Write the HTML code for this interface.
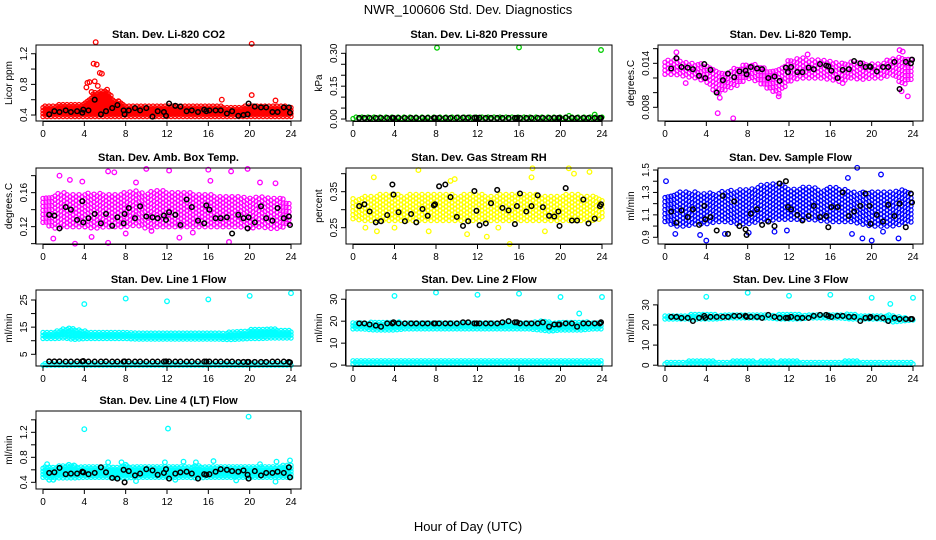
<!DOCTYPE html>
<html><head><meta charset="utf-8"><style>
html,body{margin:0;padding:0;background:#fff;}
svg{display:block;font-family:"Liberation Sans",Arial,sans-serif;}
</style></head><body>
<svg id="chart" width="936" height="540" viewBox="0 0 936 540" xmlns="http://www.w3.org/2000/svg">
<text x="468" y="14" text-anchor="middle" font-size="13">NWR_100606  Std. Dev. Diagnostics</text>
<text x="468" y="531" text-anchor="middle" font-size="13">Hour of Day (UTC)</text>
</svg>
<script>
const blackT=[0.6,1.1,1.6,2.2,2.7,3.3,3.8,3.9,4.4,5.0,5.6,6.1,6.7,7.2,7.8,7.9,8.3,8.9,9.4,10.0,10.6,11.1,11.7,11.9,12.2,12.8,13.3,13.9,14.4,15.0,15.6,15.8,16.1,16.7,17.2,17.8,18.3,18.9,19.4,19.8,19.9,20.5,21.1,21.6,22.2,22.7,23.3,23.8,23.9];
const hours=[0,1,2,3,4,5,6,7,8,9,10,11,12,13,14,15,16,17,18,19,20,21,22,23,24];
const xTicks=[0,4,8,12,16,20,24];

const co2Lo=[0.38,0.38,0.38,0.38,0.38,0.38,0.38,0.38,0.38,0.38,0.38,0.38,0.38,0.38,0.38,0.38,0.38,0.38,0.38,0.38,0.38,0.38,0.38,0.38,0.38];
const co2Hi=[0.52,0.52,0.54,0.54,0.55,0.7,0.72,0.6,0.53,0.53,0.53,0.52,0.53,0.52,0.52,0.52,0.52,0.52,0.5,0.5,0.52,0.52,0.52,0.52,0.5];
const co2OutX=[5.1,20.2,4.9,5.2,5.5,5.7,4.3,4.5,6.2,20.2,4.2,5.0,7.3,17.3,22.5,4.7,5.3];
const co2OutY=[1.35,1.33,1.07,1.06,0.95,0.94,0.82,0.83,0.73,0.66,0.76,0.84,0.58,0.6,0.59,0.7,0.78];
const co2B=[0.41,0.45,0.44,0.46,0.44,0.45,0.43,0.47,0.46,0.6,0.41,0.45,0.49,0.53,0.46,0.41,0.46,0.49,0.46,0.49,0.38,0.45,0.44,0.39,0.55,0.52,0.51,0.45,0.46,0.44,0.47,0.45,0.46,0.46,0.46,0.42,0.45,0.39,0.4,0.41,0.55,0.51,0.5,0.5,0.44,0.44,0.5,0.5,0.43];

const presLo=[0.002,0.002,0.002,0.002,0.002,0.002,0.002,0.002,0.002,0.002,0.002,0.002,0.002,0.002,0.002,0.002,0.002,0.002,0.002,0.002,0.002,0.002,0.002,0.002,0.002];
const presHi=[0.012,0.012,0.012,0.012,0.012,0.012,0.012,0.012,0.012,0.012,0.012,0.012,0.012,0.012,0.012,0.012,0.012,0.012,0.012,0.012,0.012,0.014,0.012,0.012,0.01];
const presOutX=[8.1,16.0,23.9,23.3];
const presOutY=[0.325,0.327,0.315,0.02];
const presB=[0.005,0.005,0.005,0.005,0.005,0.005,0.005,0.005,0.005,0.005,0.005,0.005,0.005,0.005,0.005,0.005,0.005,0.005,0.005,0.006,0.006,0.006,0.006,0.005,0.006,0.005,0.005,0.005,0.005,0.005,0.005,0.005,0.005,0.005,0.005,0.005,0.005,0.005,0.005,0.005,0.005,0.006,0.005,0.005,0.005,0.005,0.005,0.005,0.005];

const tempLo=[0.0125,0.0125,0.0122,0.012,0.0115,0.0098,0.0105,0.011,0.012,0.0115,0.0105,0.0098,0.0115,0.012,0.012,0.012,0.0118,0.0115,0.012,0.0118,0.012,0.012,0.0125,0.011,0.012];
const tempHi=[0.0142,0.0147,0.0142,0.014,0.0138,0.013,0.0128,0.0135,0.014,0.0138,0.013,0.0133,0.0145,0.0148,0.0145,0.0145,0.0142,0.014,0.0143,0.0142,0.014,0.014,0.0148,0.015,0.0145];
const tempOutX=[1.1,5.1,6.6,11.0,23.5,22.7,5.3,2.0,17.2,13.8,23.0,22.9];
const tempOutY=[0.0155,0.0072,0.0065,0.0095,0.0095,0.0158,0.0093,0.0113,0.0113,0.0152,0.0156,0.0102];
const tempB=[0.0133,0.0147,0.0135,0.0134,0.0132,0.0123,0.0139,0.0120,0.0131,0.0100,0.0117,0.0126,0.0121,0.0129,0.0130,0.0125,0.0135,0.0133,0.0132,0.0120,0.0122,0.0116,0.0134,0.0128,0.0135,0.0128,0.0128,0.0134,0.0132,0.0139,0.0137,0.0136,0.0130,0.0120,0.0131,0.0132,0.0143,0.0140,0.0135,0.0136,0.0135,0.0129,0.0135,0.0135,0.0142,0.0105,0.0142,0.0140,0.0145];

const ambLo=[0.125,0.118,0.12,0.12,0.12,0.118,0.12,0.12,0.12,0.122,0.118,0.12,0.12,0.12,0.12,0.12,0.12,0.12,0.12,0.12,0.118,0.12,0.118,0.118,0.125];
const ambHi=[0.155,0.158,0.16,0.158,0.158,0.16,0.158,0.158,0.162,0.162,0.16,0.162,0.162,0.16,0.16,0.158,0.158,0.155,0.155,0.155,0.155,0.155,0.155,0.155,0.145];
const ambOutX=[1.6,2.6,3.8,6.3,6.9,9.0,10.0,12.2,16.0,16.2,18.2,19.8,21.0,3.1,6.3,18.0,1.0,4.7,13.2,22.5,10.5,8.0,14.5];
const ambOutY=[0.18,0.175,0.173,0.185,0.184,0.172,0.188,0.186,0.187,0.174,0.185,0.188,0.172,0.10,0.101,0.102,0.106,0.108,0.107,0.171,0.115,0.112,0.113];
const ambB=[0.134,0.133,0.118,0.143,0.140,0.128,0.150,0.125,0.130,0.135,0.124,0.135,0.121,0.131,0.124,0.135,0.142,0.130,0.144,0.132,0.131,0.130,0.133,0.128,0.137,0.134,0.122,0.152,0.143,0.127,0.124,0.145,0.140,0.130,0.130,0.131,0.112,0.134,0.130,0.118,0.131,0.125,0.144,0.130,0.127,0.142,0.130,0.132,0.122];

const rhLo=[0.275,0.27,0.27,0.27,0.27,0.27,0.27,0.27,0.27,0.27,0.27,0.27,0.27,0.27,0.27,0.27,0.27,0.27,0.27,0.27,0.27,0.27,0.27,0.27,0.275];
const rhHi=[0.33,0.34,0.34,0.345,0.345,0.34,0.345,0.345,0.345,0.345,0.34,0.345,0.345,0.34,0.34,0.345,0.345,0.345,0.34,0.34,0.34,0.345,0.34,0.34,0.33];
const rhOutX=[2.0,6.3,9.8,12.9,17.3,20.8,21.3,22.8,15.1,2.3,7.3,11.0,18.5,1.2,9.4,17.2,4.0,14.0];
const rhOutY=[0.39,0.41,0.385,0.225,0.415,0.415,0.40,0.405,0.205,0.24,0.24,0.232,0.24,0.25,0.38,0.39,0.25,0.25];
const rhB=[0.31,0.315,0.295,0.265,0.268,0.285,0.37,0.342,0.293,0.268,0.288,0.265,0.302,0.283,0.312,0.315,0.365,0.37,0.335,0.28,0.255,0.268,0.352,0.297,0.257,0.262,0.318,0.355,0.305,0.298,0.26,0.31,0.345,0.295,0.31,0.34,0.307,0.283,0.281,0.295,0.255,0.36,0.27,0.27,0.328,0.262,0.275,0.31,0.315];

const sfLo=[1.04,1.0,1.0,1.02,1.02,1.04,1.04,1.02,1.02,1.04,1.05,1.06,1.06,1.06,1.06,1.05,1.04,1.04,1.04,1.02,1.0,1.0,1.0,1.02,1.04];
const sfHi=[1.26,1.3,1.3,1.3,1.3,1.3,1.32,1.32,1.32,1.36,1.38,1.38,1.34,1.34,1.36,1.32,1.34,1.34,1.3,1.3,1.3,1.3,1.3,1.32,1.3];
const sfOutX=[0.1,18.6,20.9,17.7,1.0,3.4,4.0,5.8,18.1,19.1,20.0,22.6,21.1,8.1,10.6,11.8];
const sfOutY=[1.4,1.52,1.46,1.43,0.93,0.92,0.87,0.93,0.93,0.89,0.87,0.89,0.95,0.94,0.95,0.96];
const sfB=[1.13,1.03,1.14,1.08,1.15,1.01,1.18,1.06,1.08,0.96,1.27,0.93,1.22,1.00,0.97,0.92,1.11,1.15,1.01,1.04,1.00,1.38,1.40,1.17,1.15,1.10,1.05,1.09,1.18,1.08,1.09,0.99,1.17,1.17,1.30,1.09,1.13,1.18,1.29,1.18,1.02,1.10,1.04,1.19,1.09,1.20,0.99,1.29,1.21];

const l1Lo=[10.8,10.8,11.0,10.5,10.8,10.8,10.8,10.8,10.8,10.6,10.6,10.6,10.6,10.6,10.6,10.6,10.6,10.6,10.4,10.6,10.8,10.8,11.0,11.0,11.0];
const l1Hi=[13.0,13.0,14.5,14.5,13.5,13.2,13.2,13.2,13.2,13.0,13.0,13.0,13.0,13.0,13.0,13.0,13.0,13.0,13.0,13.5,14.0,14.0,14.5,14.0,13.8];
const l1LowLo=[1.0,1.0,1.0,1.0,1.0,1.0,1.0,1.0,1.0,1.0,1.0,1.0,1.0,1.0,1.0,1.0,1.0,1.0,1.0,1.0,1.0,1.0,1.0,1.0,1.0];
const l1LowHi=[1.8,1.8,1.8,1.8,1.8,1.8,1.8,1.8,1.8,1.8,1.8,1.8,1.8,1.8,1.8,1.8,1.8,1.8,1.8,1.8,1.8,1.8,1.8,1.8,1.8];
const l1OutX=[4.0,8.0,12.0,16.0,20.0,24.0];
const l1OutY=[23.5,25.5,24.5,25.2,26.5,27.5];
const l1B=[2.4,2.4,2.4,2.3,2.3,2.4,2.4,2.5,2.3,2.3,2.3,2.4,2.3,2.3,2.3,2.4,2.3,2.3,2.3,2.3,2.3,2.3,2.3,2.4,2.3,2.3,2.3,2.3,2.3,2.3,2.3,2.3,2.3,2.3,2.3,2.3,2.3,2.2,2.2,2.2,2.2,2.2,2.2,2.2,2.3,2.3,2.3,2.2,2.0];

const l2Lo=[16.5,16.5,16.0,16.0,16.0,16.5,16.5,16.5,16.5,16.5,16.5,16.5,16.5,16.5,16.5,16.5,16.5,16.5,16.0,15.5,16.0,16.0,16.0,16.5,16.5];
const l2Hi=[19.5,19.5,19.5,19.5,19.5,19.5,19.5,19.5,19.5,19.5,19.5,19.5,19.5,19.5,19.5,19.5,19.5,19.5,20.0,19.5,19.5,19.5,19.5,19.5,19.5];
const l2LowLo=[0.6,0.6,0.6,0.6,0.6,0.6,0.6,0.6,0.6,0.6,0.6,0.6,0.6,0.6,0.6,0.6,0.6,0.6,0.6,0.6,0.6,0.6,0.6,0.6,0.6];
const l2LowHi=[1.8,1.8,1.8,1.8,1.8,1.8,1.8,1.8,1.8,1.8,1.8,1.8,1.8,1.8,1.8,1.8,1.8,1.8,1.8,1.8,1.8,1.8,1.8,1.8,1.8];
const l2OutX=[4.0,8.0,12.0,16.0,20.0,21.8,24.0];
const l2OutY=[31.5,33,32,32.5,31,23.5,31];
const l2B=[19,19,18.5,18,17.5,19,19,19.5,19,19,19,19,19,19,19,19,19,19,19,19,19.5,19.5,19,19,19,19,19,19,19.5,20,19.5,19.5,19,19,19,19,19.5,17.5,18.5,18.5,18.5,19,19,17.5,19,19,19,19,19.5];

const l3Lo=[23.0,23.0,23.0,23.0,23.0,23.0,23.5,23.5,23.5,23.5,23.5,23.0,23.0,23.0,23.5,23.5,23.5,23.5,23.0,23.0,23.0,23.0,21.5,22.0,22.5];
const l3Hi=[25.0,24.8,24.8,25.5,25.2,25.0,25.0,25.0,25.0,25.0,25.0,25.0,25.0,25.0,25.0,25.5,25.2,25.0,25.5,24.8,24.8,24.5,25.0,23.5,23.5];
const l3LowLo=[0.6,0.6,0.6,0.6,0.6,0.6,0.6,0.6,0.6,0.6,0.6,0.6,0.6,0.6,0.6,0.6,0.6,0.6,0.6,0.6,0.6,0.6,0.6,0.6,0.6];
const l3LowHi=[1.8,1.8,1.8,2.0,2.0,1.8,1.8,2.0,2.0,1.8,2.0,1.8,2.0,1.8,1.8,1.8,1.8,1.8,2.0,1.8,1.8,1.8,1.8,1.8,1.8];
const l3OutX=[4.0,8.0,12.0,16.0,20.0,21.8,24.0];
const l3OutY=[34,36,34.5,35,33.5,30.5,33.5];
const l3B=[24,24,23.5,23.5,22,23.5,24.5,23.5,24,24,24,24,24.5,24.5,24.5,24,24,24,23.5,25,24,23.5,23.5,23.5,24,23.5,23.5,23.5,24.5,25,25,24.5,24,24.5,24.5,24,24,22,23.5,23.5,24,23.5,23.5,22,23.5,23,23,23,23];

const l4Lo=[0.48,0.47,0.47,0.47,0.48,0.48,0.48,0.47,0.47,0.48,0.48,0.48,0.48,0.48,0.48,0.47,0.48,0.48,0.48,0.48,0.48,0.48,0.48,0.48,0.48];
const l4Hi=[0.66,0.65,0.66,0.66,0.65,0.65,0.66,0.65,0.66,0.64,0.65,0.65,0.65,0.66,0.66,0.66,0.65,0.65,0.64,0.64,0.65,0.64,0.65,0.66,0.68];
const l4OutX=[4.0,12.1,19.9,0.4,1.0,2.5,3.0,6.3,7.6,11.8,13.6,14.8,16.5,21.0,22.6,23.9,8.0,9.0,12.8,0.6,18.7,22.5];
const l4OutY=[1.25,1.26,1.45,0.69,0.44,0.68,0.67,0.72,0.72,0.72,0.73,0.72,0.74,0.69,0.73,0.75,0.68,0.42,0.44,0.44,0.43,0.41];
const l4B=[0.55,0.56,0.63,0.53,0.54,0.54,0.57,0.56,0.53,0.55,0.64,0.56,0.47,0.46,0.60,0.40,0.58,0.51,0.54,0.61,0.59,0.52,0.55,0.61,0.46,0.54,0.56,0.57,0.54,0.46,0.53,0.52,0.53,0.57,0.61,0.60,0.58,0.57,0.59,0.52,0.46,0.58,0.51,0.55,0.55,0.57,0.55,0.64,0.48];

const NS='http://www.w3.org/2000/svg';
const svg=document.getElementById('chart');
function mk(tag,attrs,parent){const e=document.createElementNS(NS,tag);for(const k in attrs)e.setAttribute(k,attrs[k]);(parent||svg).appendChild(e);return e;}
function interp(arr,h){const i=Math.max(0,Math.min(23,Math.floor(h)));const f=h-i;return arr[i]*(1-f)+arr[i+1]*f;}

const colL=[36,346,658], colW=[265,266,265];
const rowT=[45,168,290,411], rowH=[76,76,76,78];

const panels=[
 {id:'co2',title:'Stan. Dev. Li-820 CO2',ylab:'Licor ppm',c:0,r:0,y0:0.322,y1:1.314,ticks:[0.4,0.6,0.8,1.0,1.2],labs:[0.4,0.8,1.2],fmt:1,col:'#ff0000',bands:[[co2Lo,co2Hi]],ox:co2OutX,oy:co2OutY,b:co2B,dx:2,dy:3},
 {id:'pressure',title:'Stan. Dev. Li-820 Pressure',ylab:'kPa',c:1,r:0,y0:-0.009,y1:0.338,ticks:[0,0.05,0.1,0.15,0.2,0.25,0.3],labs:[0,0.15,0.3],fmt:2,col:'#00cd00',bands:[[presLo,presHi]],ox:presOutX,oy:presOutY,b:presB,dx:3,dy:3},
 {id:'temp',title:'Stan. Dev. Li-820 Temp.',ylab:'degrees.C',c:2,r:0,y0:0.00613,y1:0.0165,ticks:[0.008,0.010,0.012,0.014,0.016],labs:[0.008,0.014],fmt:3,col:'#ff00ff',bands:[[tempLo,tempHi]],ox:tempOutX,oy:tempOutY,b:tempB,dx:3,dy:4},
 {id:'ambbox',title:'Stan. Dev. Amb. Box Temp.',ylab:'degrees.C',c:0,r:1,y0:0.0996,y1:0.189,ticks:[0.10,0.12,0.14,0.16,0.18],labs:[0.12,0.16],fmt:2,col:'#ff00ff',bands:[[ambLo,ambHi]],ox:ambOutX,oy:ambOutY,b:ambB,dx:3,dy:4},
 {id:'rh',title:'Stan. Dev. Gas Stream RH',ylab:'percent',c:1,r:1,y0:0.2047,y1:0.4158,ticks:[0.25,0.30,0.35,0.40],labs:[0.25,0.35],fmt:2,col:'#ffff00',bands:[[rhLo,rhHi]],ox:rhOutX,oy:rhOutY,b:rhB,dx:3,dy:4},
 {id:'sampleflow',title:'Stan. Dev. Sample Flow',ylab:'ml/min',c:2,r:1,y0:0.84,y1:1.518,ticks:[0.9,1.0,1.1,1.2,1.3,1.4,1.5],labs:[0.9,1.1,1.3,1.5],fmt:1,col:'#0000ff',bands:[[sfLo,sfHi]],ox:sfOutX,oy:sfOutY,b:sfB,dx:3,dy:4},
 {id:'line1',title:'Stan. Dev. Line 1 Flow',ylab:'ml/min',c:0,r:2,y0:0.69,y1:28.68,ticks:[5,10,15,20,25],labs:[5,15,25],fmt:0,col:'#00ffff',bands:[[l1Lo,l1Hi],[l1LowLo,l1LowHi]],ox:l1OutX,oy:l1OutY,b:l1B,dx:2,dy:3},
 {id:'line2',title:'Stan. Dev. Line 2 Flow',ylab:'ml/min',c:1,r:2,y0:-0.4,y1:34.2,ticks:[0,10,20,30],labs:[0,10,20,30],fmt:0,col:'#00ffff',bands:[[l2Lo,l2Hi],[l2LowLo,l2LowHi]],ox:l2OutX,oy:l2OutY,b:l2B,dx:2,dy:3},
 {id:'line3',title:'Stan. Dev. Line 3 Flow',ylab:'ml/min',c:2,r:2,y0:-0.4,y1:37.4,ticks:[0,10,20,30],labs:[0,10,20,30],fmt:0,col:'#00ffff',bands:[[l3Lo,l3Hi],[l3LowLo,l3LowHi]],ox:l3OutX,oy:l3OutY,b:l3B,dx:2,dy:3},
 {id:'line4',title:'Stan. Dev. Line 4 (LT) Flow',ylab:'ml/min',c:0,r:3,y0:0.293,y1:1.541,ticks:[0.4,0.6,0.8,1.0,1.2,1.4],labs:[0.4,0.8,1.2],fmt:1,col:'#00ffff',bands:[[l4Lo,l4Hi]],ox:l4OutX,oy:l4OutY,b:l4B,dx:2,dy:3}
];

panels.forEach(p=>{
  const L=colL[p.c],W=colW[p.c],T=rowT[p.r],H=rowH[p.r];
  const xs=h=>L+7+h*(W-17)/24;
  const ys=v=>T+H-(v-p.y0)/(p.y1-p.y0)*H;
  const g=mk('g',{});
  
  
  const t=mk('text',{x:L+W/2,y:T-7,'text-anchor':'middle','font-size':'11','font-weight':'bold'},g);
  t.textContent=p.title;
  
  
  const clip=mk('g',{},g);
  
  
  p.bands.forEach(([lo,hi])=>{
    let col=0;
    for(let px=xs(0);px<=xs(24)+0.01;px+=p.dx){
      const h=(px-xs(0))/(xs(24)-xs(0))*24;
      const yTop=ys(interp(hi,h)), yBot=ys(interp(lo,h));
      const off=(col%2)*p.dy/2;
      for(let py=yBot-off;py>=yTop-0.5;py-=p.dy){
        const c=mk('circle',{cx:px.toFixed(1),cy:py.toFixed(1),r:2.1,fill:'none',stroke:p.col,'stroke-width':1.2},clip);
        
        
      }
      col++;
    }
  });
  p.ox.forEach((x,i)=>{
    const c=mk('circle',{cx:xs(x).toFixed(1),cy:ys(p.oy[i]).toFixed(1),r:2.3,fill:'none',stroke:p.col,'stroke-width':1.3},clip);
    
    
  });
  const n=Math.min(blackT.length,p.b.length);
  for(let i=0;i<n;i++){
    const c=mk('circle',{cx:xs(blackT[i]).toFixed(1),cy:ys(p.b[i]).toFixed(1),r:2.3,fill:'none',stroke:'#000','stroke-width':1.5},clip);
    
    
  }
  const box=mk('rect',{x:L,y:T,width:W,height:H,fill:'none',stroke:'#000','stroke-width':1},g);
  
  
  const xa=mk('g',{},g);
  
  
  mk('line',{x1:xs(0),x2:xs(24),y1:T+H+0.5,y2:T+H+0.5,stroke:'#000'},xa);
  xTicks.forEach(v=>{
    mk('line',{x1:xs(v),x2:xs(v),y1:T+H,y2:T+H+5,stroke:'#000'},xa);
    const tl=mk('text',{x:xs(v),y:T+H+16,'text-anchor':'middle','font-size':'10'},xa);
    tl.textContent=v;
    
    
  });
  const ya=mk('g',{},g);
  
  
  mk('line',{x1:L-0.5,x2:L-0.5,y1:ys(p.ticks[0]),y2:ys(p.ticks[p.ticks.length-1]),stroke:'#000'},ya);
  p.ticks.forEach(v=>{
    mk('line',{x1:L-5,x2:L,y1:ys(v),y2:ys(v),stroke:'#000'},ya);
  });
  p.labs.forEach(v=>{
    const y=ys(v), x=L-9;
    const tl=mk('text',{x:x,y:y,'text-anchor':'middle','font-size':'10',transform:`rotate(-90 ${x} ${y})`},ya);
    tl.textContent=v.toFixed(p.fmt);
    
    
  });
  const yx=L-24, yy=T+H/2;
  const yt=mk('text',{x:yx,y:yy,'text-anchor':'middle','font-size':'10',transform:`rotate(-90 ${yx} ${yy})`},g);
  yt.textContent=p.ylab;
  
  
});
</script>
</body></html>
